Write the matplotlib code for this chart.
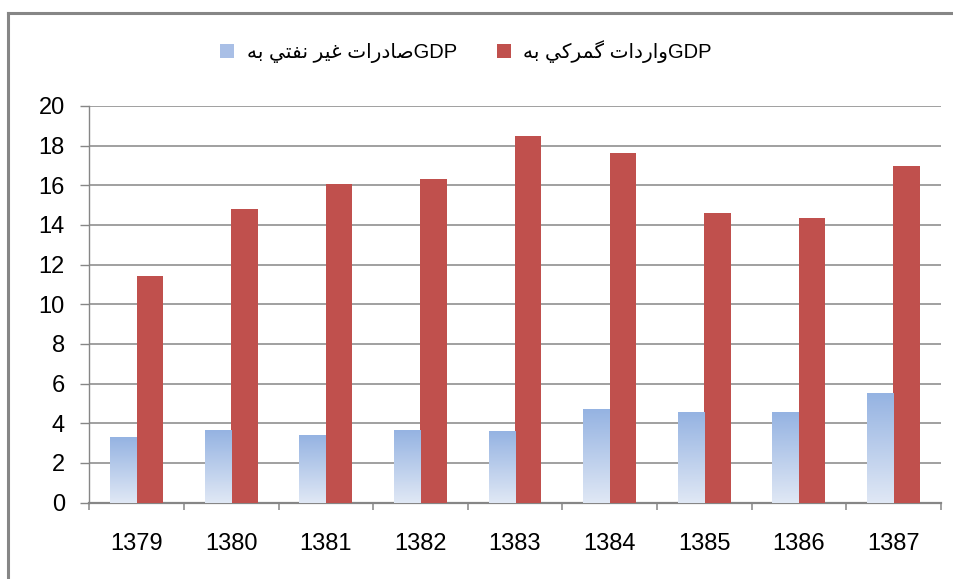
import numpy as np
import matplotlib
matplotlib.use("Agg")
import matplotlib.pyplot as plt
from matplotlib.patches import Patch
from matplotlib.lines import Line2D

# ---------------- data ----------------
years = ["1379", "1380", "1381", "1382", "1383", "1384", "1385", "1386", "1387"]
non_oil_exports = [3.3, 3.65, 3.4, 3.65, 3.6, 4.7, 4.57, 4.57, 5.53]
customs_imports = [11.43, 14.81, 16.07, 16.32, 18.49, 17.63, 14.60, 14.35, 16.97]
series_labels = ["صادرات غير نفتي به GDP", "واردات گمرکي به GDP"]
yticks = [0, 2, 4, 6, 8, 10, 12, 14, 16, 18, 20]

# ------------- Arabic shaping (visual order) -------------
FORMS = {
    'ا': ('\uFE8D', '\uFE8E', None, None),
    'ب': ('\uFE8F', '\uFE90', '\uFE91', '\uFE92'),
    'ت': ('\uFE95', '\uFE96', '\uFE97', '\uFE98'),
    'د': ('\uFEA9', '\uFEAA', None, None),
    'ر': ('\uFEAD', '\uFEAE', None, None),
    'ص': ('\uFEB9', '\uFEBA', '\uFEBB', '\uFEBC'),
    'غ': ('\uFECD', '\uFECE', '\uFECF', '\uFED0'),
    'ف': ('\uFED1', '\uFED2', '\uFED3', '\uFED4'),
    'م': ('\uFEE1', '\uFEE2', '\uFEE3', '\uFEE4'),
    'ن': ('\uFEE5', '\uFEE6', '\uFEE7', '\uFEE8'),
    'ه': ('\uFEE9', '\uFEEA', '\uFEEB', '\uFEEC'),
    'و': ('\uFEED', '\uFEEE', None, None),
    'ي': ('\uFEF1', '\uFEF2', '\uFEF3', '\uFEF4'),
    'ک': ('\uFB8E', '\uFB8F', '\uFB90', '\uFB91'),
    'گ': ('\uFB92', '\uFB93', '\uFB94', '\uFB95'),
}


def shape(text):
    out = []
    for i, c in enumerate(text):
        f = FORMS.get(c)
        if f is None:
            out.append(c)
            continue
        prev = text[i - 1] if i > 0 else None
        nxt = text[i + 1] if i + 1 < len(text) else None
        pj = prev in FORMS and FORMS[prev][2] is not None
        nj = f[2] is not None and nxt in FORMS
        if pj and nj:
            out.append(f[3])
        elif pj:
            out.append(f[1])
        elif nj:
            out.append(f[2])
        else:
            out.append(f[0])
    return ''.join(out)


def visual(label):
    arabic, latin = label.rsplit(' ', 1)
    return shape(arabic)[::-1] + latin


# ---------------- figure ----------------
W, H = 954, 579
fig = plt.figure(figsize=(W / 100, H / 100), dpi=100)
fig.patch.set_facecolor("white")

ax = fig.add_axes([89.3 / W, 1 - 502.6 / H, (940.7 - 89.3) / W, (502.6 - 106) / H])

GRAY = "#868686"
RED = "#C0504D"
x = np.arange(len(years))
bw = 0.28

blue_bars = ax.bar(x - bw / 2, non_oil_exports, width=bw, color="none",
                   edgecolor="none", zorder=3)
ax.bar(x + bw / 2, customs_imports, width=bw, color=RED, edgecolor="none", zorder=3)

# gradient fill of blue bars
top_c = np.array([149, 179, 226]) / 255
bot_c = np.array([224, 232, 245]) / 255
t = np.linspace(0, 1, 256)[:, None]
grad = (bot_c[None, :] * (1 - t) + top_c[None, :] * t)[:, None, :]
for b in blue_bars:
    x0, y0, w, h = b.get_x(), b.get_y(), b.get_width(), b.get_height()
    im = ax.imshow(grad, extent=(x0, x0 + w, y0, y0 + h), origin="lower",
                   aspect="auto", zorder=3, interpolation="bilinear")
    im.set_clip_path(b)

ax.set_xlim(-0.5, len(years) - 0.5)
ax.set_ylim(0, 20)
ax.set_yticks(yticks)
ax.set_yticklabels([str(v) for v in yticks])
ax.set_xticks(x)
ax.set_xticklabels(years)
ax.set_xticks(np.arange(-0.5, len(years)), minor=True)

ax.yaxis.grid(True, color=GRAY, linewidth=1.1)
ax.set_axisbelow(True)
for s in ["top", "right"]:
    ax.spines[s].set_visible(False)
ax.spines["left"].set_color(GRAY)
ax.spines["left"].set_linewidth(1.0)
ax.spines["bottom"].set_color(GRAY)
ax.spines["bottom"].set_linewidth(1.6)

ax.tick_params(axis="y", which="major", length=6.5, width=1, color=GRAY, pad=11,
               labelsize=17, labelcolor="black")
ax.tick_params(axis="x", which="major", length=0, pad=22, labelsize=17,
               labelcolor="black")
ax.tick_params(axis="x", which="minor", length=5, width=1.1, color=GRAY)
for lab in ax.get_xticklabels() + ax.get_yticklabels():
    lab.set_family(["Liberation Sans", "DejaVu Sans"])

# legend
handles = [Patch(facecolor="#A9BFE6", edgecolor="none"),
           Patch(facecolor=RED, edgecolor="none")]
leg = fig.legend(handles, [visual(l) for l in series_labels], ncol=2,
                 loc="center", bbox_to_anchor=(466 / W, 1 - 52 / H),
                 frameon=False, handlelength=0.7, handleheight=0.7,
                 handletextpad=0.6, columnspacing=2.0,
                 prop={"family": ["Liberation Sans", "DejaVu Sans"], "size": 14.5})

# outer chart frame (partially visible)
fig.add_artist(Line2D([8.5 / W, 1], [1 - 13 / H, 1 - 13 / H], transform=fig.transFigure,
                      color=GRAY, linewidth=2.2))
fig.add_artist(Line2D([8.5 / W, 8.5 / W], [0, 1 - 13 / H], transform=fig.transFigure,
                      color=GRAY, linewidth=2.2))

fig.savefig("out.png", dpi=100, facecolor="white")
